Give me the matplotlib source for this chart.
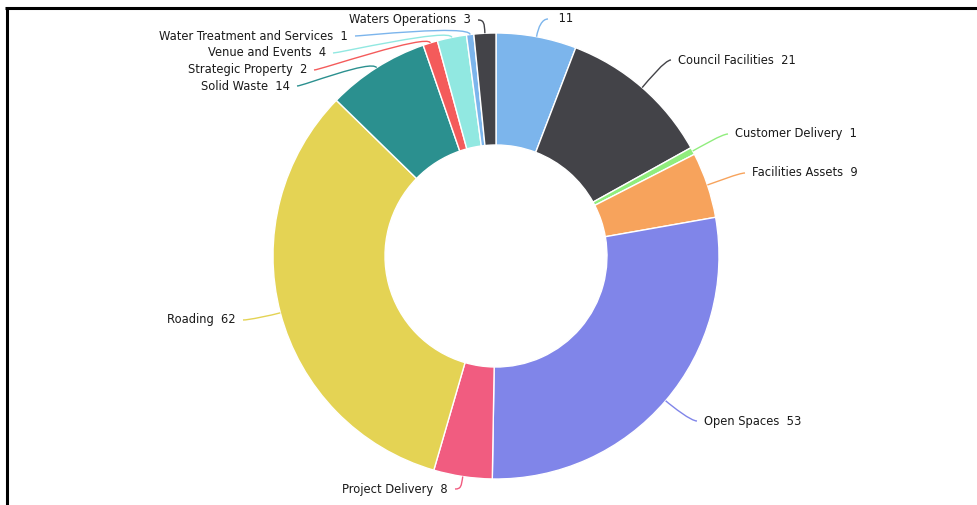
import matplotlib
matplotlib.use("Agg")
import matplotlib.pyplot as plt
from matplotlib.path import Path
from matplotlib.patches import PathPatch
import numpy as np

# slices, clockwise from 12 o'clock
names = ["", "Council Facilities", "Customer Delivery", "Facilities Assets",
         "Open Spaces", "Project Delivery", "Roading", "Solid Waste",
         "Strategic Property", "Venue and Events", "Water Treatment and Services",
         "Waters Operations"]
counts = [11, 21, 1, 9, 53, 8, 62, 14, 2, 4, 1, 3]
colors = ["#7cb5ec", "#434348", "#90ed7d", "#f7a35c", "#8085e9", "#f15c80",
          "#e4d354", "#2b908f", "#f45b5b", "#91e8e1", "#7cb5ec", "#434348"]

# layout of the data labels (end of connector, in pixels from top-left)
label_x = [548, 671, 728, 745, 697, 455, 243, 297, 314, 333, 355, 478]
label_y = [19, 60, 134, 173, 421, 489, 320, 86, 70, 53, 36, 20]

W, H = 978, 505
cx, cy, r_out, r_in = 496, 256, 223, 111

fig = plt.figure(figsize=(W / 100, H / 100), dpi=100)
ax = fig.add_axes([0, 0, 1, 1])

# inverted y axis -> counterclock in data space is clockwise on screen
ax.pie(counts, colors=colors, startangle=-90, counterclock=True,
       center=(cx, cy), radius=r_out,
       wedgeprops=dict(width=r_out - r_in, edgecolor="white", linewidth=1))
ax.set_xlim(0, W)
ax.set_ylim(H, 0)
ax.set_aspect("auto")
ax.axis("off")

total = sum(counts)
cum = np.cumsum([0] + counts)
for i, (n, v) in enumerate(zip(names, counts)):
    mid = (cum[i] + cum[i + 1]) / 2 / total * 2 * np.pi
    sx, sy = np.sin(mid), -np.cos(mid)
    p0 = (cx + r_out * sx, cy + r_out * sy)
    p1 = (cx + (r_out + 10) * sx, cy + (r_out + 10) * sy)
    ex, ey = label_x[i], label_y[i]
    right = ex > p0[0]
    p2 = (ex - 6 if right else ex + 6, ey)
    path = Path([p0, p1, p2, (ex, ey)],
                [Path.MOVETO, Path.CURVE4, Path.CURVE4, Path.CURVE4])
    ax.add_patch(PathPatch(path, fc="none", ec=colors[i], lw=1))
    txt = f"{n}  {v}" if n else f" {v}"
    ax.text(ex + 7 if right else ex - 7, ey, txt,
            ha="left" if right else "right", va="center",
            fontsize=8.3, color="#1a1a1a", family="DejaVu Sans")

# frame lines at top and left
ax.plot([5, W], [8, 8], color="black", lw=2.2, solid_capstyle="butt", clip_on=False)
ax.plot([7, 7], [7, H], color="black", lw=2.2, solid_capstyle="butt", clip_on=False)

fig.savefig("out.png", dpi=100)
